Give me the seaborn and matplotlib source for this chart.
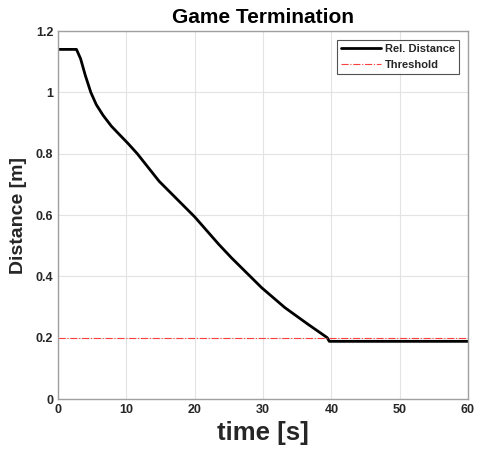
import pandas as pd
import matplotlib.pyplot as plt
import seaborn as sns

# data
time_s = [0, 2.7, 3.3, 4.0, 4.8, 5.6, 6.6, 7.8, 9.0, 10.3, 11.6, 14.8, 20.0,
          23.5, 25.4, 29.8, 33.2, 36.5, 39.4, 39.7, 60]
distance = [1.14, 1.14, 1.11, 1.055, 1.0, 0.96, 0.925, 0.89, 0.862, 0.832,
            0.80, 0.71, 0.594, 0.505, 0.46, 0.363, 0.298, 0.245, 0.2, 0.188,
            0.188]
thr_time = [0, 60]
thr_value = [0.2, 0.2]

x_ticks = [0, 10, 20, 30, 40, 50, 60]
y_ticks = [0, 0.2, 0.4, 0.6, 0.8, 1.0, 1.2]
y_labels = ['0', '0.2', '0.4', '0.6', '0.8', '1', '1.2']

sns.set_style('whitegrid')
plt.rcParams['font.family'] = ['Liberation Sans', 'DejaVu Sans']

df = pd.DataFrame({'t': time_s, 'd': distance})
df_thr = pd.DataFrame({'t': thr_time, 'd': thr_value})

fig = plt.figure(figsize=(4.81, 4.57), dpi=100)
ax = fig.add_axes([58 / 481, 1 - 399 / 457, 410 / 481, 368 / 457])

sns.lineplot(data=df, x='t', y='d', ax=ax, color='black', linewidth=2.0,
             label='Rel. Distance')
sns.lineplot(data=df_thr, x='t', y='d', ax=ax, color='#ff4040', linewidth=0.8,
             linestyle='-.', label='Threshold')

ax.set_xlim(0, 60)
ax.set_ylim(0, 1.2)
ax.set_xticks(x_ticks)
ax.set_yticks(y_ticks)
ax.set_yticklabels(y_labels)
ax.grid(True, color='#e3e3e3', linewidth=0.8)
ax.tick_params(direction='in', length=3, colors='#262626', labelsize=9,
               width=0.6)
for lbl in ax.get_xticklabels() + ax.get_yticklabels():
    lbl.set_fontweight('bold')
for s in ax.spines.values():
    s.set_color('#a0a0a0')
    s.set_linewidth(1.0)

ax.set_title('Game Termination', fontsize=15, fontweight='bold', pad=6,
             color='black')
ax.set_xlabel('time [s]', fontsize=18.5, fontweight='bold', color='#262626',
              labelpad=4)
ax.set_ylabel('Distance [m]', fontsize=14, fontweight='bold', color='#262626',
              labelpad=6)

leg = ax.legend(loc='upper right', fontsize=8, frameon=True, fancybox=False,
                handlelength=3.6, borderpad=0.35, labelspacing=0.55,
                handletextpad=0.35, borderaxespad=0.8)
leg.get_frame().set_edgecolor('#262626')
leg.get_frame().set_linewidth(0.8)
for t in leg.get_texts():
    t.set_fontweight('bold')

plt.savefig('out.png', dpi=100)
